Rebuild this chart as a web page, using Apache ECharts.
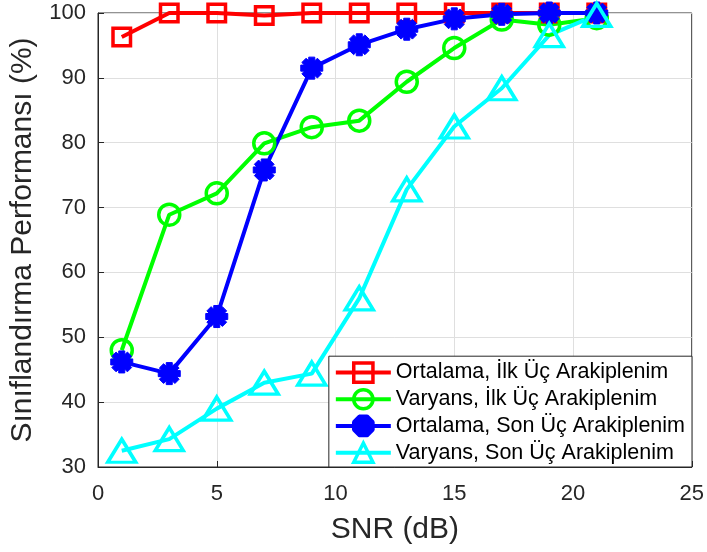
<!DOCTYPE html>
<html>
<head>
<meta charset="utf-8">
<script src="https://cdn.jsdelivr.net/npm/echarts@6/dist/echarts.min.js"></script>
<style>
html,body{margin:0;padding:0;background:#fff;}
#chart{width:707px;height:552px;}
</style>
</head>
<body>
<div id="chart"></div>
<script>
const snr = [1, 3, 5, 7, 9, 11, 13, 15, 17, 19, 21];
const ortalamaIlk = [96.3, 100, 100, 99.6, 100, 100, 100, 100, 100, 100, 100];
const varyansIlk = [48.0, 68.9, 72.2, 79.9, 82.4, 83.4, 89.4, 94.6, 99.0, 98.2, 99.2];
const ortalamaSon = [46.2, 44.4, 53.2, 75.8, 91.5, 95.1, 97.5, 99.1, 99.8, 100, 100];
const varyansSon = [32.5, 34.3, 39.0, 43.0, 44.4, 56.0, 72.8, 82.5, 88.4, 96.6, 99.7];
const seriesNames = [
  'Ortalama, İlk Üç Arakiplenim',
  'Varyans, İlk Üç Arakiplenim',
  'Ortalama, Son Üç Arakiplenim',
  'Varyans, Son Üç Arakiplenim'
];
const xTicks = [0, 5, 10, 15, 20, 25];
const yTicks = [30, 40, 50, 60, 70, 80, 90, 100];

const FONT = "'Liberation Sans', Arial, Helvetica, sans-serif";
const asterisk = 'path://M-2.2,-8L2.2,-8L2.2,8L-2.2,8Z M-8,-2.2L8,-2.2L8,2.2L-8,2.2Z M-7.2,-4.1L-4.1,-7.2L7.2,4.1L4.1,7.2Z M7.2,-4.1L-4.1,7.2L-7.2,4.1L4.1,-7.2Z';

function pairs(ys) { return snr.map((x, i) => [x, ys[i]]); }

function mk(name, data, color, symbol, size, filled) {
  return {
    name: name,
    type: 'line',
    data: pairs(data),
    clip: false,
    symbol: symbol,
    symbolSize: size,
    symbolKeepAspect: true,
    showAllSymbol: true,
    lineStyle: { color: color, width: 4 },
    itemStyle: filled
      ? { color: color, borderColor: color, borderWidth: 1 }
      : { color: 'rgba(255,255,255,0)', borderColor: color, borderWidth: 3.5 },
    emphasis: { disabled: true },
    animation: false
  };
}

const chart = echarts.init(document.getElementById('chart'), null, { renderer: 'canvas' });
chart.setOption({
  backgroundColor: '#fff',
  animation: false,
  grid: { left: 97, right: 15, top: 13, bottom: 85, show: true, borderColor: '#262626', borderWidth: 1, backgroundColor: 'transparent' },
  legend: {
    orient: 'vertical',
    right: 15,
    bottom: 85,
    itemWidth: 55,
    itemHeight: 24,
    itemGap: 4,
    padding: [5, 7, 3, 5],
    backgroundColor: '#fff',
    borderColor: '#262626',
    borderWidth: 1,
    borderRadius: 0,
    lineStyle: { width: 4 },
    itemStyle: { borderWidth: 3.5 },
    textStyle: { fontFamily: FONT, fontSize: 21.5, color: '#000' },
    data: seriesNames
  },
  xAxis: {
    type: 'value', min: 0, max: 25, interval: 5,
    name: 'SNR (dB)', nameLocation: 'middle', nameGap: 48,
    nameTextStyle: { fontFamily: FONT, fontSize: 30, color: '#262626' },
    axisLine: { show: true, lineStyle: { color: '#262626', width: 1 } },
    axisTick: { show: true, inside: true, length: 6, lineStyle: { color: '#262626' } },
    axisLabel: { fontFamily: FONT, fontSize: 22, color: '#262626', margin: 16,
      formatter: v => xTicks.includes(v) ? String(v) : '' },
    splitLine: { show: true, lineStyle: { color: '#dfdfdf', width: 1 } }
  },
  yAxis: {
    type: 'value', min: 30, max: 100, interval: 10,
    name: 'Sınıflandırma Performansı (%)', nameLocation: 'middle', nameGap: 60,
    nameTextStyle: { fontFamily: FONT, fontSize: 30, color: '#262626' },
    axisLine: { show: true, lineStyle: { color: '#262626', width: 1 } },
    axisTick: { show: true, inside: true, length: 6, lineStyle: { color: '#262626' } },
    axisLabel: { fontFamily: FONT, fontSize: 22, color: '#262626', margin: 12,
      formatter: v => yTicks.includes(v) ? String(v) : '' },
    splitLine: { show: true, lineStyle: { color: '#dfdfdf', width: 1 } }
  },
  series: [
    mk(seriesNames[0], ortalamaIlk, '#ff0000', 'rect', 17.5, false),
    mk(seriesNames[1], varyansIlk, '#00ff00', 'circle', 21, false),
    mk(seriesNames[2], ortalamaSon, '#0000ff', asterisk, 22, true),
    mk(seriesNames[3], varyansSon, '#00ffff', 'triangle', [28, 23], false)
  ]
});
</script>
</body>
</html>
